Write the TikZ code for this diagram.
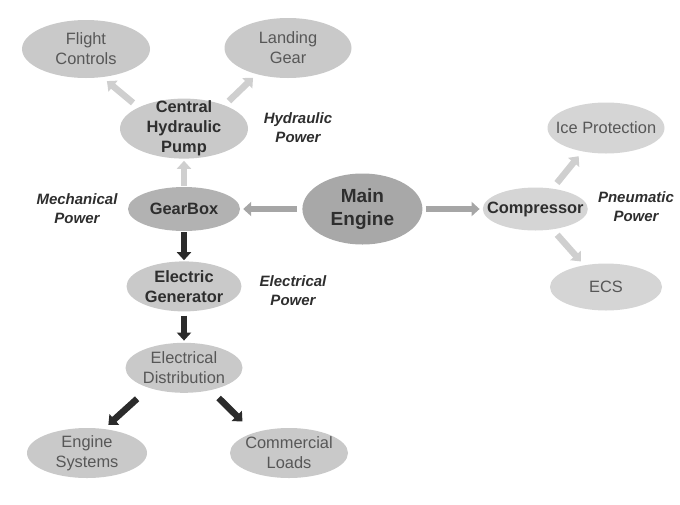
\documentclass[tikz,border=0pt]{standalone}
\usepackage{fontspec}
\setmainfont{Liberation Sans}
\usetikzlibrary{positioning,shapes.geometric,arrows.meta}
\definecolor{darkclr}{HTML}{A8A8A8}
\definecolor{midclr}{HTML}{B2B2B2}
\definecolor{liteclr}{HTML}{C9C9C9}
\definecolor{paleclr}{HTML}{D5D5D5}
\definecolor{arrclr}{HTML}{CFCFCF}
\definecolor{engclr}{HTML}{A6A6A6}
\definecolor{blkclr}{HTML}{2B2B2B}
\definecolor{txtclr}{HTML}{2E2E2E}
\definecolor{softclr}{HTML}{575757}
\tikzset{ %
  ,>={Triangle[length=8pt,width=14pt]}
  ,dims/.style 2 args={minimum width=#1, minimum height=#2}
  ,unit/.style={ellipse, inner sep=-15pt, align=center, fill=liteclr, text=softclr, font=\fontsize{16.4}{20}\selectfont}
  ,hub/.style={unit, text=txtclr, font=\fontsize{16.4}{20}\selectfont\bfseries}
  ,power/.style={align=center, text=txtclr, font=\fontsize{15}{19}\selectfont\bfseries\itshape}
  ,feed/.style={line width=6.5pt, ->, draw=arrclr}
  ,shaft/.style={line width=6.5pt, ->, draw=blkclr}
}
\begin{document}
\begin{tikzpicture}[x=1pt, y=-1pt]
      \useasboundingbox (0,0) rectangle (680,504);
      \draw 
      node[hub, dims={112pt}{44pt}, fill=midclr] (GB) at (184,209) {GearBox}
      node[hub, dims={128pt}{60pt}, above=28pt of GB] (HP) {Central\\Hydraulic\\Pump}
      node[hub, dims={120pt}{71pt}, fill=darkclr, right=62pt of GB, font=\fontsize{19}{23}\selectfont\bfseries] (ME) {Main\\Engine}
      node[hub, dims={105pt}{43pt}, fill=paleclr, right=60pt of ME] (CP) {Compressor}
      node[hub, dims={115pt}{50pt}, below=30pt of GB] (EG) {Electric\\Generator}
      node[unit, dims={117pt}{50pt}, below=31pt of EG] (ED) {Electrical\\Distribution}
      node[unit, dims={128pt}{58pt}] (FC) at (86,49) {Flight\\Controls}
      node[unit, dims={127pt}{60pt}] (LG) at (288,48) {Landing\\Gear}
      node[unit, dims={117pt}{51pt}, fill=paleclr] (IP) at (606,128) {Ice Protection}
      node[unit, dims={112pt}{47pt}, fill=paleclr] (ECS) at (606,287) {ECS}
      node[unit, dims={120pt}{50pt}] (ES) at (87,453) {Engine\\Systems}
      node[unit, dims={118pt}{50pt}] (CL) at (289,453) {Commercial\\Loads};
      % power labels
      \draw
      node[power] (hyd) at (298,128) {Hydraulic\\Power}
      node[power] (mech) at (77,209) {Mechanical\\Power}
      node[power] (elec) at (293,291) {Electrical\\Power}
      node[power] (pneu) at (636,207) {Pneumatic\\Power};
      % light feeds
      \draw [feed, shorten <=1pt, shorten >=2pt] (GB) -- (HP);
      \draw [feed, shorten <=7pt, shorten >=6pt] (HP.155) -- (FC.-60);
      \draw [feed, shorten <=6pt, shorten >=5pt] (HP.30) -- (LG.-140);
      \draw [feed, shorten <=7pt, shorten >=6pt] (CP.50) -- (IP.-135);
      \draw [feed, shorten <=7pt, shorten >=5pt] (CP.-50) -- (ECS.135);
      \draw [feed, draw=engclr, shorten <=5pt, shorten >=3pt] (ME.west) -- (GB.east);
      \draw [feed, draw=engclr, shorten <=3pt, shorten >=3pt] (ME.east) -- (CP.west);
      % electrical chain
      \draw [shaft, shorten <=1pt, shorten >=1pt] (GB) -- (EG);
      \draw [shaft, shorten <=4pt, shorten >=2pt] (EG) -- (ED);
      \draw [shaft, shorten <=16pt, shorten >=6pt] (ED.-150) -- (ES.55);
      \draw [shaft, shorten <=11pt, shorten >=16pt] (ED.-40) -- (CL.150);
    \end{tikzpicture}
\end{document}
